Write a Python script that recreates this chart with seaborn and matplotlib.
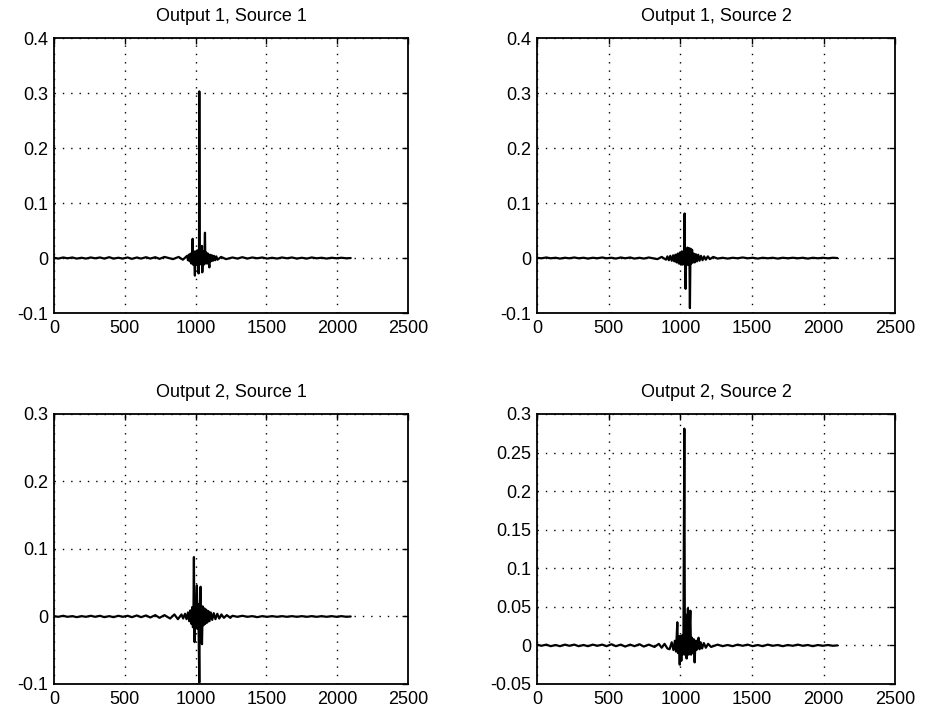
import matplotlib
matplotlib.use("Agg")
import matplotlib.pyplot as plt
import seaborn as sns
import pandas as pd

# ---------------- data ----------------
titles = ["Output 1, Source 1", "Output 1, Source 2",
          "Output 2, Source 1", "Output 2, Source 2"]

xticks = [0, 500, 1000, 1500, 2000, 2500]
xticklabels = ["0", "500", "1000", "1500", "2000", "2500"]

yticks_top = [-0.1, 0.0, 0.1, 0.2, 0.3, 0.4]
yticklabels_top = ["-0.1", "0", "0.1", "0.2", "0.3", "0.4"]
yticks_21 = [-0.1, 0.0, 0.1, 0.2, 0.3]
yticklabels_21 = ["-0.1", "0", "0.1", "0.2", "0.3"]
yticks_22 = [-0.05, 0.0, 0.05, 0.1, 0.15, 0.2, 0.25, 0.3]
yticklabels_22 = ["-0.05", "0", "0.05", "0.1", "0.15", "0.2", "0.25", "0.3"]

# sample positions of the quiet baseline before / after the response burst
base_pre_t = [0, 30, 65, 95, 130, 160, 195, 225, 260, 290, 325, 355, 390, 420, 455, 485,
              520, 550, 585, 615, 650, 680, 715, 745, 780]
base_post_t = [1260, 1295, 1330, 1365, 1400, 1435, 1470, 1505, 1540, 1575, 1610, 1645,
               1680, 1715, 1750, 1785, 1820, 1855, 1890, 1925, 1960, 1995, 2030, 2065, 2095]

# Output 1, Source 1
pre_11 = [0.0005, -0.001, 0.001, -0.0005, 0.001, -0.001, 0.0005, -0.001, 0.001, -0.0005,
          0.001, -0.001, 0.0015, -0.001, 0.0005, -0.001, 0.001, -0.0015, 0.001, -0.001,
          0.0015, -0.001, 0.0015, -0.0015, 0.002]
burst_t_11 = [840, 880, 910, 940, 946, 952, 958, 964, 970, 976, 979, 982, 988, 995, 1000,
              1006, 1012, 1018, 1021, 1024, 1026, 1029, 1034, 1040, 1045, 1047, 1052,
              1058, 1063, 1066, 1069, 1075, 1081, 1087, 1093, 1097, 1102, 1108, 1115,
              1122, 1130, 1138, 1146, 1155, 1180, 1215]
burst_v_11 = [-0.002, 0.002, -0.003, 0.004, -0.004, 0.006, -0.006, 0.008, -0.010, 0.012,
              0.035, -0.012, 0.012, -0.032, 0.012, -0.012, 0.014, -0.014, -0.028, 0.010,
              0.303, -0.010, 0.012, -0.012, 0.022, -0.026, 0.012, -0.012, 0.010, 0.046,
              -0.010, 0.010, -0.010, 0.008, -0.008, -0.017, 0.006, -0.006, 0.005, -0.005,
              0.004, -0.004, 0.003, -0.003, 0.002, -0.002]
post_11 = [0.001, -0.001, 0.0015, -0.001, 0.001, -0.0005, 0.001, -0.001, 0.0005, -0.001,
           0.001, -0.0005, 0.001, -0.001, 0.0005, -0.001, 0.001, -0.0005, 0.0005, -0.001,
           0.0005, -0.0005, 0.0005, -0.0005, 0.0]

# Output 1, Source 2
pre_12 = [0.0005, -0.0005, 0.001, -0.0005, 0.0005, -0.001, 0.0005, -0.0005, 0.001, -0.0005,
          0.0005, -0.001, 0.0005, -0.0005, 0.001, -0.0005, 0.0005, -0.001, 0.001, -0.0005,
          0.001, -0.001, 0.0005, -0.001, 0.001]
burst_t_12 = [840, 870, 900, 910, 920, 930, 940, 950, 958, 966, 974, 982, 990, 997, 1004,
              1010, 1016, 1022, 1027, 1030, 1033, 1037, 1041, 1046, 1050, 1055, 1060,
              1064, 1067, 1071, 1076, 1082, 1088, 1094, 1100, 1108, 1116, 1125, 1134,
              1144, 1155, 1166, 1178, 1192, 1206, 1230]
burst_v_12 = [-0.002, 0.002, -0.003, 0.003, -0.004, 0.004, -0.005, 0.005, -0.006, 0.006,
              -0.008, 0.008, -0.010, 0.010, -0.012, 0.012, -0.012, 0.012, -0.010, 0.081,
              -0.012, -0.056, 0.012, -0.012, 0.019, -0.012, 0.018, -0.010, -0.091, 0.017,
              -0.010, 0.015, -0.008, 0.008, -0.008, 0.007, -0.006, 0.006, -0.005, 0.004,
              -0.004, 0.003, -0.003, 0.003, -0.002, 0.002]
post_12 = [-0.001, 0.0005, -0.001, 0.0005, -0.0005, 0.001, -0.0005, 0.0005, -0.001, 0.0005,
           -0.0005, 0.0005, -0.001, 0.0005, -0.0005, 0.0005, -0.0005, 0.0005, -0.001, 0.0005,
           -0.0005, 0.0005, -0.0005, 0.0005, 0.0]

# Output 2, Source 1
pre_21 = [0.0005, -0.0005, 0.001, -0.0005, 0.0005, -0.001, 0.0005, -0.0005, 0.001, -0.0005,
          0.001, -0.001, 0.0005, -0.001, 0.001, -0.0005, 0.001, -0.001, 0.0015, -0.001,
          0.0015, -0.0015, 0.002, -0.002, 0.002]
burst_t_21 = [820, 850, 875, 900, 912, 925, 936, 946, 955, 963, 970, 976, 981, 985, 988,
              991, 993, 996, 1000, 1004, 1009, 1013, 1017, 1021, 1026, 1030, 1035, 1039,
              1045, 1050, 1056, 1062, 1068, 1075, 1082, 1090, 1098, 1107, 1117, 1128,
              1140, 1153, 1167, 1182, 1200, 1220, 1245]
burst_v_21 = [-0.003, 0.003, -0.004, 0.003, -0.003, 0.004, -0.004, 0.006, -0.007, 0.009,
              -0.011, 0.014, -0.016, 0.016, 0.088, -0.018, -0.038, 0.018, -0.018, 0.020,
              0.046, -0.018, 0.018, -0.018, -0.098, 0.018, 0.044, -0.016, -0.041, 0.015,
              -0.013, 0.012, -0.011, 0.010, -0.009, 0.008, -0.007, 0.006, -0.005, 0.005,
              -0.004, 0.004, -0.003, 0.003, -0.002, 0.002, -0.002]
post_21 = [0.001, -0.0005, 0.001, -0.0005, 0.0005, -0.001, 0.0005, -0.0005, 0.0005, -0.0005,
           0.0005, -0.0005, 0.0005, -0.0005, 0.0005, -0.0005, 0.0005, -0.0005, 0.0005,
           -0.0005, 0.0005, -0.0005, 0.0005, -0.0005, 0.0]

# Output 2, Source 2
pre_22 = [0.001, -0.0005, 0.001, -0.001, 0.0005, -0.001, 0.001, -0.0005, 0.001, -0.001,
          0.0005, -0.001, 0.001, -0.0005, 0.001, -0.001, 0.0015, -0.001, 0.001, -0.0015,
          0.001, -0.001, 0.0015, -0.0015, 0.001]
burst_t_22 = [820, 850, 870, 890, 910, 925, 940, 952, 962, 970, 979, 984, 990, 996, 1001,
              1007, 1012, 1017, 1022, 1028, 1032, 1037, 1041, 1044, 1048, 1053, 1058,
              1063, 1070, 1075, 1081, 1088, 1094, 1100, 1106, 1113, 1120, 1128, 1134,
              1142, 1152, 1164, 1178, 1194, 1215]
burst_v_22 = [-0.002, 0.002, -0.003, 0.002, -0.004, -0.005, 0.004, -0.006, 0.006, -0.008,
              0.030, -0.010, 0.012, -0.025, 0.012, -0.020, 0.013, -0.012, 0.014, 0.281,
              -0.012, 0.040, -0.012, -0.017, 0.014, 0.048, -0.012, 0.012, 0.045, -0.012,
              0.010, -0.010, 0.008, -0.022, 0.006, -0.006, 0.006, 0.010, -0.005, 0.004,
              -0.004, 0.003, -0.003, 0.002, -0.002]
post_22 = [0.001, -0.001, 0.0005, -0.001, 0.001, -0.0005, 0.001, -0.001, 0.0005, -0.001,
           0.001, -0.0005, 0.0005, -0.001, 0.0005, -0.0005, 0.001, -0.0005, 0.0005, -0.001,
           0.0005, -0.0005, 0.0005, -0.0005, 0.0]

# ---------------- build tables ----------------
def make_df(pre, bt, bv, post):
    t = base_pre_t + bt + base_post_t
    v = pre + bv + post
    return pd.DataFrame({"sample": t, "value": v})

frames = [make_df(pre_11, burst_t_11, burst_v_11, post_11),
          make_df(pre_12, burst_t_12, burst_v_12, post_12),
          make_df(pre_21, burst_t_21, burst_v_21, post_21),
          make_df(pre_22, burst_t_22, burst_v_22, post_22)]

ylims = [(-0.1, 0.4), (-0.1, 0.4), (-0.1, 0.3), (-0.05, 0.3)]
yticks = [yticks_top, yticks_top, yticks_21, yticks_22]
yticklabels = [yticklabels_top, yticklabels_top, yticklabels_21, yticklabels_22]

# ---------------- figure ----------------
sns.set_theme(style="white")
plt.rcParams["font.family"] = ["Liberation Sans", "DejaVu Sans"]
plt.rcParams["axes.unicode_minus"] = False

fig = plt.figure(figsize=(9.28, 7.15), dpi=100)
rects = [[0.0582, 0.5622, 0.3815, 0.3846],
         [0.5787, 0.5622, 0.3860, 0.3846],
         [0.0582, 0.0434, 0.3815, 0.3776],
         [0.5787, 0.0434, 0.3860, 0.3776]]

for i in range(4):
    ax = fig.add_axes(rects[i])
    sns.lineplot(data=frames[i], x="sample", y="value", ax=ax, color="black",
                 linewidth=1.6, estimator=None, sort=True)
    ax.set_xlim(0, 2500)
    ax.set_ylim(*ylims[i])
    ax.set_xticks(xticks)
    ax.set_xticklabels(xticklabels)
    ax.set_yticks(yticks[i])
    ax.set_yticklabels(yticklabels[i])
    ax.set_xlabel("")
    ax.set_ylabel("")
    ax.set_title(titles[i], fontsize=13, pad=12, color="black")
    ax.grid(True, color="black", linestyle=(0, (1, 5)), linewidth=1.0)
    ax.tick_params(axis="both", direction="in", length=4, width=1.0,
                   top=True, right=True, labelsize=13, colors="black")
    ax.tick_params(axis="x", pad=5)
    ax.tick_params(axis="y", pad=4)
    for sp in ax.spines.values():
        sp.set_visible(True)
        sp.set_color("black")
        sp.set_linewidth(1.3)

fig.savefig("out.png", dpi=100, facecolor="white")
